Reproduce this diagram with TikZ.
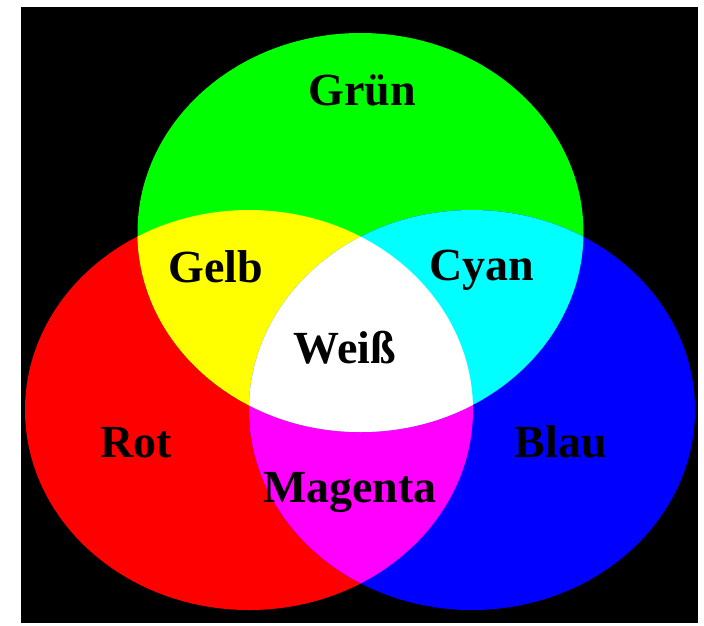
\documentclass[tikz,border=0pt]{standalone}
\usepackage{fontspec}
\setmainfont{Liberation Serif}
\usetikzlibrary{positioning}
\definecolor{cRot}    {HTML}{FF0000}
\definecolor{cGruen}  {HTML}{00FF00}
\definecolor{cBlau}   {HTML}{0000FF}
\definecolor{cGelb}   {HTML}{FFFF00}
\definecolor{cCyan}   {HTML}{00FFFF}
\definecolor{cMagenta}{HTML}{FF00FF}

\begin{document}
\begin{tikzpicture}[x=1pt, y=-1pt,
    lbl/.style={font=\bfseries\fontsize{46}{50}\selectfont, anchor=base, inner sep=0pt}]
  \def\rotkreis{(249,410) ellipse [x radius=224, y radius=200]}
  \def\gruenkreis{(360.5,232.5) ellipse [x radius=223, y radius=199.5]}
  \def\blaukreis{(472,410) ellipse [x radius=223, y radius=200]}
  \useasboundingbox (0,0) rectangle (704,625);
  \fill[white] (0,0) rectangle (704,625);
  \fill[black] (21,7) rectangle (698,623);
  % primaries
  \fill[cRot] \rotkreis;
  \fill[cGruen] \gruenkreis;
  \fill[cBlau] \blaukreis;
  % pairwise mixtures
  \begin{scope}
    \clip \rotkreis;
    \fill[cGelb] \gruenkreis;
    \fill[cMagenta] \blaukreis;
  \end{scope}
  \begin{scope}
    \clip \gruenkreis;
    \fill[cCyan] \blaukreis;
  \end{scope}
  % all three
  \begin{scope}
    \clip \rotkreis;
    \clip \gruenkreis;
    \fill[white] \blaukreis;
  \end{scope}
  % labels
  \foreach \n/\t/\x/\y in {gruen/Grün/362/105, gelb/Gelb/216/282, cyan/Cyan/482/280,
      weiss/Weiß/345/363, rot/Rot/136/457, magenta/Magenta/350/502, blau/Blau/561/457}
    \node[lbl] (\n) at (\x,\y) {\t};
\end{tikzpicture}
\end{document}
